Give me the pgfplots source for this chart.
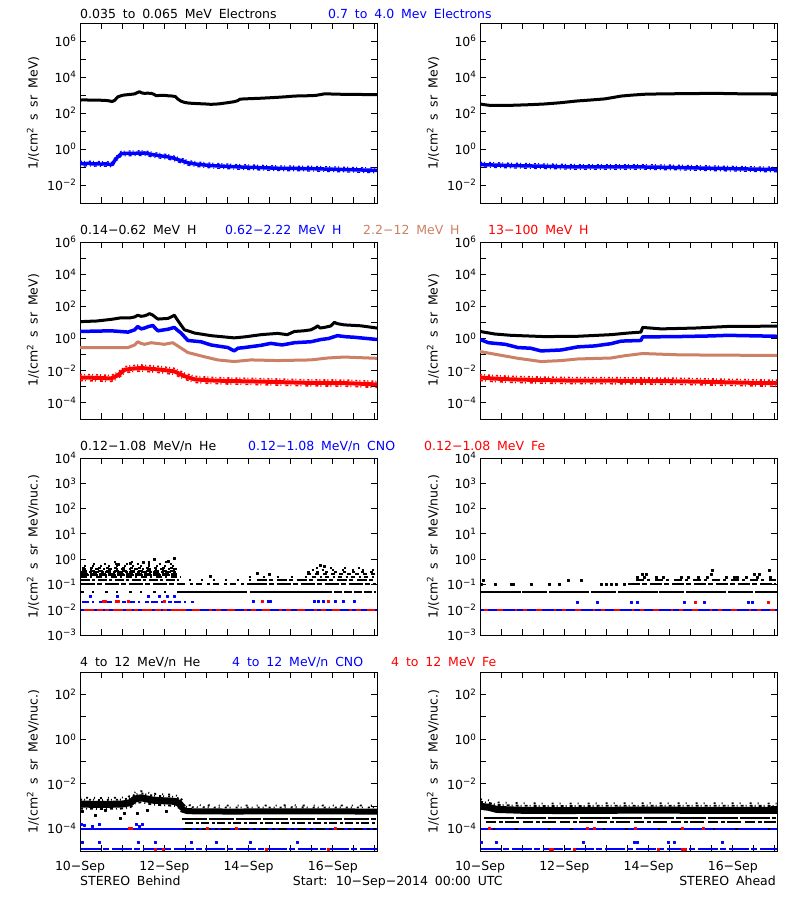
\documentclass[border=0pt]{standalone}
\usepackage{fontspec}
\setmainfont{DejaVu Sans}
\usepackage{pgfplots}
\usepackage{pgfplotstable}
\pgfplotsset{compat=1.18}
\definecolor{ibl}{RGB}{0,0,255}
\definecolor{ird}{RGB}{255,0,0}
\definecolor{itn}{RGB}{204,128,102}
\newcommand\hf{\fontsize{12.5bp}{15bp}\selectfont\spaceskip=0.55em\relax}
\newcommand\tl[1]{10\textsuperscript{#1}}

\pgfplotstableread{
x y
0.00 0.155
0.10 0.150
0.20 0.160
0.30 0.148
0.40 0.152
0.50 0.145
0.60 0.150
0.70 0.140
0.76 0.135
0.82 0.22
0.88 0.33
0.94 0.45
0.98 0.55
1.10 0.57
1.20 0.575
1.35 0.58
1.53 0.60
1.65 0.52
1.76 0.47
1.90 0.42
2.09 0.363
2.20 0.32
2.32 0.257
2.45 0.21
2.56 0.17
2.80 0.14
3.11 0.12
3.50 0.108
3.90 0.098
4.30 0.092
4.69 0.085
5.10 0.083
5.48 0.081
5.90 0.076
6.27 0.072
6.60 0.069
7.05 0.064
}\eAbl

\pgfplotstableread{
x y
0.00 0.135
0.50 0.125
0.74 0.120
1.50 0.110
2.32 0.100
3.10 0.100
3.90 0.100
4.69 0.093
5.48 0.085
6.27 0.078
7.05 0.072
}\eBbl

\pgfplotstableread{
x y
0.00 0.0038
0.40 0.0036
0.74 0.0033
0.90 0.0052
1.06 0.0115
1.25 0.0135
1.45 0.0148
1.70 0.0130
1.93 0.0115
2.24 0.0091
2.48 0.0046
2.72 0.0029
3.10 0.0025
3.51 0.0023
4.30 0.0021
4.90 0.0019
5.48 0.00175
6.27 0.00170
6.80 0.00150
7.05 0.00140
}\pCr

\pgfplotstableread{
x y
0.00 0.0038
0.30 0.0033
0.74 0.0029
1.50 0.0026
2.32 0.0024
3.10 0.0024
3.90 0.0023
4.70 0.0022
5.48 0.0020
6.30 0.0018
7.05 0.00166
}\pDr

\pgfplotstableread{
x y
0.00 1.25e-3
0.50 1.2e-3
1.00 1.25e-3
1.20 1.45e-3
1.30 2.1e-3
1.45 2.4e-3
1.60 2.1e-3
1.75 1.85e-3
2.00 1.75e-3
2.25 1.65e-3
2.35 1.35e-3
2.45 8.5e-4
}\hLa

\pgfplotstableread{
x y
2.40 7.5e-4
2.55 6.0e-4
3.50 5.8e-4
5.00 5.9e-4
7.05 5.8e-4
}\hLb

\pgfplotstableread{
x y
0.00 1.0e-3
0.20 9.0e-4
0.40 7.2e-4
1.00 6.6e-4
2.00 6.4e-4
3.00 6.6e-4
4.00 6.7e-4
5.00 6.6e-4
6.00 6.6e-4
7.05 6.5e-4
}\hR

\pgfplotsset{
  every axis/.append style={scale only axis, width=297bp, xmin=0, xmax=7.05,
    anchor=south west,
    axis line style={line width=0.9bp},
    every tick/.style={black, line width=0.9bp},
    major tick length=6bp, minor tick length=6bp, tick align=inside,
    xtick={0,0.5,...,7}, yminorticks=false,
    tick label style={font=\hf},
    xticklabel style={yshift=-7bp},
    ylabel style={font=\hf, at={(axis description cs:-0.158,0.5)}, anchor=center}},
  every axis plot/.append style={line join=round},
  mydots/.style={only marks, mark=square*, mark size=1bp},
}
\tikzset{mylv/.style={line width=2bp}}

\begin{document}
\begin{tikzpicture}[x=1bp,y=1bp]
\useasboundingbox (0,0) rectangle (800,900);

% ---------------- titles ----------------
\node[anchor=base west, inner sep=0, font=\hf] at (80,881.7) {0.035 to 0.065 MeV Electrons};
\node[anchor=base west, inner sep=0, font=\hf, text=ibl] at (328,881.7) {0.7 to 4.0 Mev Electrons};
\node[anchor=base west, inner sep=0, font=\hf] at (80,665) {0.14−0.62 MeV H};
\node[anchor=base west, inner sep=0, font=\hf, text=ibl] at (225,665) {0.62−2.22 MeV H};
\node[anchor=base west, inner sep=0, font=\hf, text=itn] at (363,665) {2.2−12 MeV H};
\node[anchor=base west, inner sep=0, font=\hf, text=ird] at (488,665) {13−100 MeV H};
\node[anchor=base west, inner sep=0, font=\hf] at (80,449.3) {0.12−1.08 MeV/n He};
\node[anchor=base west, inner sep=0, font=\hf, text=ibl] at (248,449.3) {0.12−1.08 MeV/n CNO};
\node[anchor=base west, inner sep=0, font=\hf, text=ird] at (424,449.3) {0.12−1.08 MeV Fe};
\node[anchor=base west, inner sep=0, font=\hf] at (80,233.3) {4 to 12 MeV/n He};
\node[anchor=base west, inner sep=0, font=\hf, text=ibl] at (232,233.3) {4 to 12 MeV/n CNO};
\node[anchor=base west, inner sep=0, font=\hf, text=ird] at (391,233.3) {4 to 12 MeV Fe};
\node[anchor=base west, inner sep=0, font=\hf] at (80,14.3) {STEREO Behind};
\node[anchor=base west, inner sep=0, font=\hf] at (292.7,14.3) {Start: 10−Sep−2014 00:00 UTC};
\node[anchor=base east, inner sep=0, font=\hf] at (776,14.3) {STEREO Ahead};

% ================= ROW 1 =================
\begin{axis}[at={(80bp,697bp)}, height=180bp, ymode=log, ymin=1e-3, ymax=1e7,
    xticklabels={},
    ytick={1e-2,1e-1,1,1e1,1e2,1e3,1e4,1e5,1e6},
    yticklabels={\tl{−2},,\tl{0},,\tl{2},,\tl{4},,\tl{6}},
    ylabel={1/(cm\textsuperscript{2} s sr MeV)}]
\addplot[black, line width=3bp] coordinates {(0.00,525)(0.15,530)(0.30,510)(0.45,515)(0.60,500)(0.70,470)(0.76,430)(0.82,500)(0.90,794)(1.00,950)(1.06,1000)(1.15,1050)(1.22,1096)(1.30,1150)(1.35,1318)(1.41,1514)(1.47,1300)(1.53,1230)(1.60,1260)(1.69,1230)(1.75,1100)(1.81,912)(1.90,950)(2.00,955)(2.10,900)(2.20,871)(2.27,800)(2.32,600)(2.40,450)(2.48,389)(2.56,360)(2.64,347)(2.80,330)(2.95,320)(3.11,302)(3.30,320)(3.50,372)(3.65,420)(3.74,479)(3.80,589)(4.00,620)(4.30,661)(4.50,700)(4.69,741)(4.90,800)(5.09,871)(5.30,900)(5.48,912)(5.60,950)(5.80,1148)(6.00,1130)(6.19,1096)(6.50,1070)(6.80,1060)(7.05,1047)};
\addplot[ibl, line width=3.5bp] table {\eAbl};
\addplot[ibl, line width=1.3bp, dash pattern=on 2bp off 2bp on 1bp off 4bp, yshift=2.3bp] table {\eAbl};
\addplot[ibl, line width=1.3bp, dash pattern=on 1bp off 3bp on 3bp off 3bp, yshift=-2.3bp] table {\eAbl};
\end{axis}

\begin{axis}[at={(480bp,697bp)}, height=180bp, ymode=log, ymin=1e-3, ymax=1e7,
    xticklabels={},
    ytick={1e-2,1e-1,1,1e1,1e2,1e3,1e4,1e5,1e6},
    yticklabels={\tl{−2},,\tl{0},,\tl{2},,\tl{4},,\tl{6}},
    ylabel={1/(cm\textsuperscript{2} s sr MeV)}]
\addplot[black, line width=3bp] coordinates {(0.00,316)(0.10,290)(0.20,269)(0.50,265)(0.80,269)(1.20,290)(1.53,316)(1.90,370)(2.32,468)(2.60,520)(2.95,603)(3.15,720)(3.35,871)(3.60,980)(3.90,1096)(4.30,1150)(4.69,1175)(5.10,1200)(5.48,1230)(5.90,1200)(6.27,1148)(6.70,1148)(7.05,1148)};
\addplot[ibl, line width=3.5bp] table {\eBbl};
\addplot[ibl, line width=1.3bp, dash pattern=on 2bp off 2bp on 1bp off 4bp, yshift=2.3bp] table {\eBbl};
\addplot[ibl, line width=1.3bp, dash pattern=on 1bp off 3bp on 3bp off 3bp, yshift=-2.3bp] table {\eBbl};
\end{axis}

% ================= ROW 2 =================
\begin{axis}[at={(80bp,481bp)}, height=177bp, ymode=log, ymin=1e-5, ymax=1e6,
    xticklabels={},
    ytick={1e-4,1e-3,1e-2,1e-1,1,1e1,1e2,1e3,1e4,1e5,1e6},
    yticklabels={\tl{−4},,\tl{−2},,\tl{0},,\tl{2},,\tl{4},,\tl{6}},
    ylabel={1/(cm\textsuperscript{2} s sr MeV)}]
\addplot[black, line width=3bp] coordinates {(0.00,11.2)(0.40,12.3)(0.74,15.5)(0.98,19.5)(1.20,19.5)(1.30,22)(1.37,28.2)(1.45,24)(1.53,25.7)(1.60,30)(1.65,35.5)(1.73,28.2)(1.80,20)(1.85,16.2)(2.09,17.8)(2.20,24.5)(2.24,28.2)(2.30,16)(2.38,8)(2.48,3.47)(2.60,2.8)(2.72,2.19)(3.11,1.51)(3.51,1.20)(3.66,1.10)(3.90,1.26)(4.30,1.74)(4.69,2.09)(4.92,1.74)(5.09,2.75)(5.30,3.0)(5.48,3.47)(5.60,5.0)(5.64,6.17)(5.70,4.5)(5.80,4.90)(5.95,6)(6.04,10.2)(6.10,8.5)(6.27,7.08)(6.67,6.17)(7.05,4.47)};
\addplot[ibl, line width=3.5bp] coordinates {(0.00,2.75)(0.74,3.02)(1.14,2.51)(1.30,3.5)(1.37,5.62)(1.45,3.98)(1.53,4.47)(1.62,5.5)(1.73,6.46)(1.80,4.0)(1.85,3.02)(2.09,3.80)(2.24,4.90)(2.30,3.5)(2.40,2.19)(2.56,0.759)(2.87,0.631)(3.11,0.398)(3.51,0.275)(3.66,0.170)(3.75,0.25)(3.90,0.275)(4.30,0.380)(4.53,0.501)(4.69,0.437)(4.80,0.40)(5.09,0.550)(5.48,0.631)(5.72,0.871)(5.90,1.0)(6.11,1.51)(6.30,1.3)(6.51,1.20)(7.05,0.871)};
\addplot[itn, line width=3bp] coordinates {(0.00,0.275)(1.14,0.275)(1.30,0.4)(1.37,0.631)(1.45,0.50)(1.53,0.437)(1.69,0.550)(2.00,0.437)(2.20,0.550)(2.32,0.347)(2.56,0.135)(2.95,0.0741)(3.27,0.0468)(3.66,0.0372)(4.06,0.0468)(4.69,0.0427)(5.48,0.0468)(5.88,0.0617)(6.27,0.0708)(7.05,0.0589)};
\addplot[ird, line width=4bp] table {\pCr};
\addplot[ird, line width=1.6bp, dash pattern=on 2bp off 2bp on 1bp off 3bp, yshift=3bp] table {\pCr};
\addplot[ird, line width=1.6bp, dash pattern=on 3bp off 2bp on 1bp off 4bp, yshift=-3bp] table {\pCr};
\end{axis}

\begin{axis}[at={(480bp,481bp)}, height=177bp, ymode=log, ymin=1e-5, ymax=1e6,
    xticklabels={},
    ytick={1e-4,1e-3,1e-2,1e-1,1,1e1,1e2,1e3,1e4,1e5,1e6},
    yticklabels={\tl{−4},,\tl{−2},,\tl{0},,\tl{2},,\tl{4},,\tl{6}},
    ylabel={1/(cm\textsuperscript{2} s sr MeV)}]
\addplot[black, line width=3bp] coordinates {(0.00,2.75)(0.35,1.91)(0.74,1.58)(1.53,1.32)(2.32,1.38)(3.11,1.74)(3.51,2.19)(3.82,2.51)(3.86,4.90)(4.30,3.98)(5.09,4.47)(5.88,5.62)(7.05,5.89)};
\addplot[ibl, line width=3.5bp] coordinates {(0.00,0.871)(0.20,0.550)(0.60,0.437)(0.90,0.275)(1.20,0.25)(1.45,0.170)(1.93,0.195)(2.32,0.302)(2.72,0.347)(3.11,0.479)(3.35,0.692)(3.82,0.759)(3.86,1.26)(4.69,1.32)(5.48,1.45)(5.88,1.58)(7.05,1.38)};
\addplot[itn, line width=3bp] coordinates {(0.00,0.155)(0.43,0.0977)(0.90,0.0589)(1.45,0.0372)(1.93,0.0427)(2.32,0.0537)(3.11,0.0617)(3.43,0.0851)(3.86,0.117)(4.69,0.0977)(5.48,0.0933)(7.05,0.0891)};
\addplot[ird, line width=4bp] table {\pDr};
\addplot[ird, line width=1.6bp, dash pattern=on 2bp off 2bp on 1bp off 3bp, yshift=3bp] table {\pDr};
\addplot[ird, line width=1.6bp, dash pattern=on 3bp off 2bp on 1bp off 4bp, yshift=-3bp] table {\pDr};
\end{axis}

% ================= ROW 3 =================
\begin{axis}[at={(80bp,265bp)}, height=177bp, ymode=log, ymin=1e-3, ymax=1e4,
    xticklabels={},
    ytick={1e-3,1e-2,1e-1,1,1e1,1e2,1e3,1e4},
    yticklabels={\tl{−3},\tl{−2},\tl{−1},\tl{0},\tl{1},\tl{2},\tl{3},\tl{4}},
    ylabel={1/(cm\textsuperscript{2} s sr MeV/nuc.)}]
\addplot[ibl, mylv] coordinates {(0.02,0.01)(7.04,0.01)};
\addplot[ird, mylv, dash pattern=on 10bp off 3bp on 6bp off 2bp on 4bp off 4bp] coordinates {(0.1,0.01)(2.4,0.01)};
\addplot[ird, mylv, dash pattern=on 5bp off 6bp on 8bp off 9bp on 3bp off 4bp] coordinates {(2.4,0.01)(7.0,0.01)};
\addplot[ibl, mylv, dash pattern=on 7bp off 3bp on 2bp off 5bp on 4bp off 2bp] coordinates {(0.05,0.021)(2.7,0.021)};
\addplot[ird, mydots] coordinates {(0.55,0.021)(0.6,0.021)(0.85,0.021)(0.9,0.021)(1.15,0.021)(2.0,0.021)(4.33,0.021)(5.9,0.021)};
\addplot[ibl, mydots] coordinates {(4.1,0.021)(4.47,0.021)(4.52,0.021)(5.55,0.021)(5.65,0.021)(5.78,0.021)(6.05,0.021)(6.25,0.021)(6.5,0.021)};
\addplot[ibl, mydots] coordinates {(0.25,0.034)(0.89,0.034)(1.63,0.034)(1.89,0.034)(2.07,0.034)(2.24,0.034)};
\addplot[black, mylv, dash pattern=on 3bp off 8bp on 2bp off 11bp] coordinates {(0.03,0.05)(2.3,0.05)};
\addplot[black, mylv] coordinates {(2.3,0.05)(3.97,0.05)};
\addplot[black, mylv] coordinates {(4.03,0.05)(5.8,0.05)};
\addplot[black, mylv, dash pattern=on 8bp off 2bp] coordinates {(5.8,0.05)(7.03,0.05)};
\addplot[black, mylv, dash pattern=on 14bp off 2bp on 5bp off 3bp] coordinates {(0.03,0.1)(2.35,0.1)};
\addplot[black, mylv, dash pattern=on 6bp off 5bp on 3bp off 3bp] coordinates {(2.35,0.1)(4.1,0.1)};
\addplot[black, mylv, dash pattern=on 14bp off 2bp on 5bp off 3bp] coordinates {(4.1,0.1)(7.03,0.1)};
\addplot[black, mylv, dash pattern=on 9bp off 2bp on 3bp off 3bp] coordinates {(0.03,0.15)(2.3,0.15)};
\addplot[black, mylv, dash pattern=on 2bp off 10bp] coordinates {(2.3,0.15)(4.2,0.15)};
\addplot[black, mylv, dash pattern=on 10bp off 2bp on 4bp off 4bp] coordinates {(4.2,0.15)(7.03,0.15)};
\addplot[black, mylv, dash pattern=on 6bp off 3bp on 2bp off 4bp] coordinates {(0.03,0.2)(2.4,0.2)};
\addplot[black, mylv, dash pattern=on 2bp off 12bp] coordinates {(4.0,0.2)(5.5,0.2)};
\addplot[black, mylv, dash pattern=on 4bp off 4bp on 2bp off 3bp] coordinates {(5.5,0.2)(7.03,0.2)};
\addplot[black, mylv, dash pattern=on 8bp off 1bp] coordinates {(0.03,0.24)(2.3,0.24)};
\addplot[black, mylv, dash pattern=on 7bp off 2bp] coordinates {(0.03,0.27)(2.3,0.27)};
\addplot[black, mylv, dash pattern=on 6bp off 2bp on 3bp off 1bp] coordinates {(0.03,0.31)(2.3,0.31)};
\addplot[black, mylv, dash pattern=on 5bp off 3bp] coordinates {(0.05,0.35)(2.3,0.35)};
\addplot[black, mylv, dash pattern=on 4bp off 4bp on 2bp off 3bp] coordinates {(0.05,0.40)(2.3,0.40)};
\addplot[black, mylv, dash pattern=on 3bp off 5bp] coordinates {(0.05,0.46)(2.3,0.46)};
\addplot[black, mylv, dash pattern=on 2bp off 6bp] coordinates {(0.1,0.53)(2.3,0.53)};
\addplot[black, mylv, dash pattern=on 2bp off 9bp] coordinates {(0.3,0.62)(2.3,0.62)};
\addplot[black, mylv, dash pattern=on 2bp off 15bp] coordinates {(0.8,0.75)(2.3,0.75)};
\addplot[black, mylv, dash pattern=on 4bp off 4bp] coordinates {(5.4,0.25)(7.0,0.25)};
\addplot[black, mylv, dash pattern=on 3bp off 6bp] coordinates {(5.4,0.3)(7.0,0.3)};
\addplot[black, mylv, dash pattern=on 2bp off 8bp] coordinates {(5.5,0.36)(7.0,0.36)};
\addplot[black, mylv, dash pattern=on 2bp off 12bp] coordinates {(5.6,0.45)(6.8,0.45)};
\addplot[black, mydots] coordinates {(1.77,1.0)(2.24,1.05)(2.1,0.85)(1.5,0.75)(1.2,0.7)(0.9,0.65)(5.7,0.6)(5.8,0.54)(4.5,0.25)(4.2,0.27)(3.1,0.22)};
\end{axis}

\begin{axis}[at={(480bp,265bp)}, height=177bp, ymode=log, ymin=1e-3, ymax=1e4,
    xticklabels={},
    ytick={1e-3,1e-2,1e-1,1,1e1,1e2,1e3,1e4},
    yticklabels={\tl{−3},\tl{−2},\tl{−1},\tl{0},\tl{1},\tl{2},\tl{3},\tl{4}},
    ylabel={1/(cm\textsuperscript{2} s sr MeV/nuc.)}]
\addplot[ibl, mylv] coordinates {(0.02,0.01)(7.04,0.01)};
\addplot[ird, mylv, dash pattern=on 4bp off 9bp on 6bp off 12bp on 2bp off 6bp] coordinates {(0.1,0.01)(7.0,0.01)};
\addplot[ibl, mydots] coordinates {(2.30,0.02)(2.77,0.02)(3.59,0.02)(3.73,0.02)(4.85,0.02)(5.32,0.02)(6.37,0.02)(6.47,0.02)};
\addplot[ird, mydots] coordinates {(5.10,0.02)(6.84,0.02)};
\addplot[black, mylv, dash pattern=on 40bp off 1.5bp on 25bp off 2bp] coordinates {(0.02,0.05)(7.04,0.05)};
\addplot[black, mydots] coordinates {(0.03,0.1)(0.35,0.1)(0.74,0.1)(0.78,0.1)(1.22,0.1)(1.65,0.1)(1.89,0.1)(2.87,0.1)(2.99,0.1)(3.11,0.1)(3.23,0.1)(3.43,0.1)};
\addplot[black, mylv, dash pattern=on 12bp off 2bp on 5bp off 3bp] coordinates {(3.51,0.1)(7.03,0.1)};
\addplot[black, mydots] coordinates {(0.07,0.15)(2.09,0.15)(2.40,0.15)};
\addplot[black, mylv, dash pattern=on 8bp off 3bp on 3bp off 5bp] coordinates {(3.71,0.15)(7.03,0.15)};
\addplot[black, mydots] coordinates {(3.74,0.2)(3.90,0.2)(4.18,0.2)(4.34,0.2)(4.77,0.2)(4.93,0.2)(5.17,0.2)(5.39,0.2)(5.84,0.2)(6.04,0.2)(6.11,0.2)(6.31,0.2)(6.59,0.2)(6.90,0.2)};
\addplot[black, mydots] coordinates {(3.86,0.25)(3.94,0.25)(5.48,0.25)(6.51,0.25)(6.63,0.25)(5.52,0.37)(6.86,0.37)};
\end{axis}

% ================= ROW 4 =================
\begin{axis}[at={(80bp,49bp)}, height=179bp, ymode=log, ymin=1e-5, ymax=1e3,
    ytick={1e-4,1e-3,1e-2,1e-1,1,1e1,1e2},
    yticklabels={\tl{−4},,\tl{−2},,\tl{0},,\tl{2}},
    xticklabels={10−Sep,,,,12−Sep,,,,14−Sep,,,,16−Sep,,},
    ylabel={1/(cm\textsuperscript{2} s sr MeV/nuc.)}]
\addplot[ibl, mylv, dash pattern=on 20bp off 2bp on 6bp off 3bp] coordinates {(0.02,1.2e-5)(7.04,1.2e-5)};
\addplot[ird, mydots] coordinates {(1.78,1.2e-5)(1.98,1.2e-5)(4.43,1.2e-5)(5.89,1.2e-5)};
\addplot[ibl, mydots] coordinates {(0.05,2.6e-5)(0.45,2.6e-5)(1.37,2.6e-5)(1.78,2.6e-5)(2.63,2.6e-5)(3.24,2.6e-5)(4.05,2.6e-5)(5.16,2.6e-5)};
\addplot[ibl, mylv] coordinates {(0.02,1e-4)(7.04,1e-4)};
\addplot[black, mylv, dash pattern=on 9bp off 4bp on 3bp off 3bp] coordinates {(2.45,1e-4)(7.03,1e-4)};
\addplot[ird, mydots] coordinates {(1.17,1e-4)(1.22,1e-4)(3.02,1e-4)(3.7,1e-4)(6.05,1e-4)};
\addplot[ibl, mydots] coordinates {(0.03,1.6e-4)(0.1,1.4e-4)(0.3,1.3e-4)(0.45,1.5e-4)(1.33,1.6e-4)(1.4,1.3e-4)(1.47,1.6e-4)};
\addplot[black, mylv, dash pattern=on 8bp off 3bp on 3bp off 2bp] coordinates {(2.5,1.8e-4)(7.03,1.8e-4)};
\addplot[black, mylv, dash pattern=on 25bp off 2bp] coordinates {(2.42,2.8e-4)(7.03,2.8e-4)};
\addplot[black, mydots] coordinates {(0.05,6e-4)(0.35,4e-4)(0.95,3e-4)(1.05,5e-4)(1.36,5e-4)(1.6,7e-4)(2.05,6e-4)(0.6,7e-4)};
\addplot[black, line width=7bp] table {\hLa};
\addplot[black, line width=1.8bp, dash pattern=on 2bp off 2bp on 1bp off 4bp, yshift=4.5bp] table {\hLa};
\addplot[black, line width=1.8bp, dash pattern=on 1bp off 5bp on 2bp off 6bp, yshift=6.5bp] table {\hLa};
\addplot[black, line width=1.8bp, dash pattern=on 3bp off 3bp on 1bp off 3bp, yshift=-4.5bp] table {\hLa};
\addplot[black, line width=6bp] table {\hLb};
\addplot[black, line width=1.8bp, dash pattern=on 2bp off 3bp on 1bp off 5bp, yshift=4bp] table {\hLb};
\addplot[black, line width=1.8bp, dash pattern=on 1bp off 7bp on 2bp off 9bp, yshift=6bp] table {\hLb};
\end{axis}

\begin{axis}[at={(480bp,49bp)}, height=179bp, ymode=log, ymin=1e-5, ymax=1e3,
    ytick={1e-4,1e-3,1e-2,1e-1,1,1e1,1e2},
    yticklabels={\tl{−4},,\tl{−2},,\tl{0},,\tl{2}},
    xticklabels={10−Sep,,,,12−Sep,,,,14−Sep,,,,16−Sep,,},
    ylabel={1/(cm\textsuperscript{2} s sr MeV/nuc.)}]
\addplot[ibl, mylv, dash pattern=on 20bp off 2bp on 6bp off 3bp] coordinates {(0.02,1.26e-5)(7.04,1.26e-5)};
\addplot[ird, mydots] coordinates {(1.66,1.26e-5)(1.72,1.26e-5)(2.24,1.26e-5)(4.22,1.26e-5)(4.81,1.26e-5)(4.88,1.26e-5)};
\addplot[ibl, mydots] coordinates {(0.03,2.6e-5)(0.39,2.6e-5)(2.44,2.6e-5)(3.65,2.6e-5)(3.74,2.6e-5)(4.47,2.6e-5)(4.6,2.6e-5)(5.76,2.6e-5)};
\addplot[ibl, mylv] coordinates {(0.02,1e-4)(7.04,1e-4)};
\addplot[black, mylv, dash pattern=on 2bp off 20bp on 3bp off 30bp] coordinates {(0.3,1e-4)(7.03,1e-4)};
\addplot[ird, mydots] coordinates {(0.21,1e-4)(2.54,1e-4)(2.7,1e-4)(3.69,1e-4)(4.79,1e-4)(5.3,1e-4)};
\addplot[black, mylv, dash pattern=on 10bp off 3bp on 4bp off 2bp on 14bp off 4bp] coordinates {(0.15,2e-4)(7.03,2e-4)};
\addplot[black, mylv, dash pattern=on 30bp off 2bp] coordinates {(0.1,3.1e-4)(7.03,3.1e-4)};
\addplot[black, line width=7bp] table {\hR};
\addplot[black, line width=1.8bp, dash pattern=on 3bp off 2bp on 1bp off 3bp, yshift=4.5bp] table {\hR};
\addplot[black, line width=1.8bp, dash pattern=on 2bp off 6bp on 1bp off 9bp, yshift=7bp] table {\hR};
\end{axis}

\end{tikzpicture}
\end{document}
